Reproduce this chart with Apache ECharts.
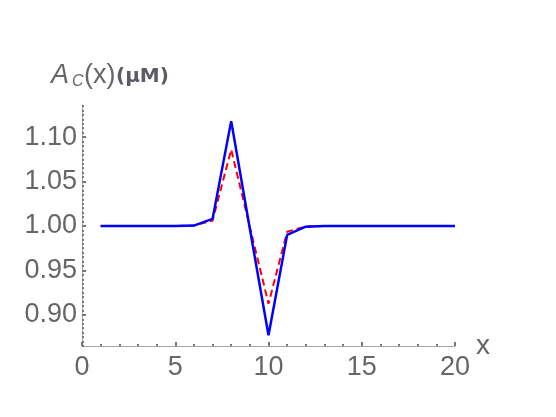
<!DOCTYPE html>
<html>
<head>
<meta charset="utf-8">
<script src="https://cdn.jsdelivr.net/npm/echarts@6/dist/echarts.min.js"></script>
<style>
  html, body { margin: 0; padding: 0; background: #fff; }
  #chart { width: 556px; height: 417px; }
</style>
</head>
<body>
<div id="chart"></div>
<script>
// positions x = 1..20
var xValues = [1, 2, 3, 4, 5, 6, 7, 8, 9, 10, 11, 12, 13, 14, 15, 16, 17, 18, 19, 20]
// solid blue curve
var blueValues = [1, 1, 1, 1, 1, 1.0005, 1.008, 1.118, 0.997, 0.877, 0.990, 0.9992, 1, 1, 1, 1, 1, 1, 1, 1]
// dashed red curve
var redValues = [1, 1, 1, 1, 1, 1.0005, 1.006, 1.086, 0.999, 0.9125, 0.9935, 0.9995, 1, 1, 1, 1, 1, 1, 1, 1]
var yTickLabels = [0.90, 0.95, 1.00, 1.05, 1.10]
var xTickLabels = [0, 5, 10, 15, 20]

var axisGray = '#a6a6a6'
var tickGray = '#777'
var labelGray = '#666'
var font = 'Liberation Sans, Arial, sans-serif'

function pairs (ys) {
  return xValues.map(function (x, i) { return [x, ys[i]] })
}

var chart = echarts.init(document.getElementById('chart'))

var option = {
  animation: false,
  grid: {
    left: 82,
    right: 101,
    top: 106,
    bottom: 71,
    containLabel: false
  },
  xAxis: [
    {
      // minor ticks
      type: 'value',
      position: 'bottom',
      min: 0,
      max: 20,
      interval: 1,
      axisLine: { show: true, onZero: false, lineStyle: { color: axisGray, width: 1 } },
      axisTick: { show: true, inside: true, length: 2, lineStyle: { color: tickGray, width: 2 } },
      axisLabel: { show: false },
      splitLine: { show: false }
    },
    {
      // major ticks + labels
      type: 'value',
      position: 'bottom',
      min: 0,
      max: 20,
      interval: 5,
      name: 'x',
      nameLocation: 'end',
      nameGap: 13,
      nameTextStyle: { color: labelGray, fontSize: 28, fontFamily: font, padding: [6, 0, 0, 0] },
      axisLine: { show: false, onZero: false },
      axisTick: { show: true, inside: true, length: 4, lineStyle: { color: tickGray, width: 2 } },
      axisLabel: {
        show: true,
        margin: 8,
        color: labelGray,
        fontSize: 27,
        fontFamily: font,
        customValues: xTickLabels
      },
      splitLine: { show: false }
    }
  ],
  yAxis: [
    {
      type: 'value',
      position: 'left',
      min: 0.865,
      max: 1.135,
      interval: 0.005,
      axisLine: { show: true, onZero: false, lineStyle: { color: axisGray, width: 1 } },
      axisTick: { show: true, inside: true, length: 2, lineStyle: { color: tickGray, width: 2 } },
      axisLabel: { show: false },
      splitLine: { show: false }
    },
    {
      type: 'value',
      position: 'left',
      min: 0.865,
      max: 1.135,
      axisLine: { show: false, onZero: false },
      axisTick: {
        show: true,
        inside: true,
        length: 4,
        lineStyle: { color: tickGray, width: 2 },
        customValues: yTickLabels
      },
      axisLabel: {
        show: true,
        margin: 5,
        color: labelGray,
        fontSize: 27,
        fontFamily: font,
        customValues: yTickLabels,
        formatter: function (v) { return v.toFixed(2) }
      },
      splitLine: { show: false }
    }
  ],
  graphic: [
    { type: 'text', left: 51, top: 62, style: { text: 'A', fontSize: 27, fontStyle: 'italic', fontFamily: font, fill: labelGray } },
    { type: 'text', left: 72, top: 74, style: { text: 'C', fontSize: 16, fontStyle: 'italic', fontFamily: font, fill: labelGray } },
    { type: 'text', left: 84, top: 62, style: { text: '(x)', fontSize: 27, fontFamily: font, fill: labelGray } },
    { type: 'text', left: 116, top: 67, style: { text: '(μM)', fontSize: 20, fontWeight: 'bold', fontFamily: 'DejaVu Sans', fill: '#5c5c66' } }
  ],
  series: [
    {
      name: 'red',
      type: 'line',
      xAxisIndex: 1,
      yAxisIndex: 1,
      symbol: 'none',
      lineStyle: { color: '#ff0000', width: 2, type: [7, 4] },
      data: pairs(redValues),
      z: 2
    },
    {
      name: 'blue',
      type: 'line',
      xAxisIndex: 1,
      yAxisIndex: 1,
      symbol: 'none',
      lineStyle: { color: '#0000ff', width: 2.5 },
      data: pairs(blueValues),
      z: 3
    }
  ]
}

chart.setOption(option)
</script>
</body>
</html>
